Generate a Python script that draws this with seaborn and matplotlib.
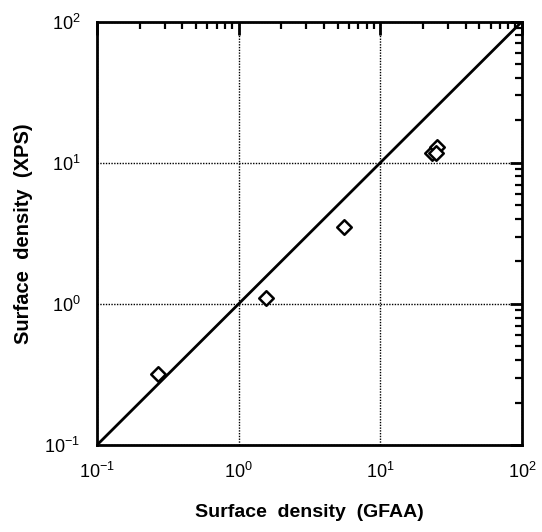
import matplotlib
matplotlib.use("Agg")
import matplotlib.pyplot as plt
import seaborn as sns
import numpy as np
import pandas as pd
from matplotlib.ticker import LogLocator, NullFormatter

sns.set_theme(style="white")
plt.rcParams['font.family'] = ['Liberation Sans', 'DejaVu Sans']
plt.rcParams['mathtext.fontset'] = 'custom'
plt.rcParams['mathtext.rm'] = 'Liberation Sans'
plt.rcParams['text.color'] = 'black'
plt.rcParams['axes.labelcolor'] = 'black'
plt.rcParams['xtick.color'] = 'black'
plt.rcParams['ytick.color'] = 'black'
plt.rcParams['axes.unicode_minus'] = False

# surface density measurements
gfaa = [0.27, 1.56, 5.5, 23.0, 25.1, 24.7]
xps = [0.318, 1.10, 3.48, 11.7, 13.0, 11.7]
line_range = [0.1, 100]

df = pd.DataFrame({'GFAA': gfaa, 'XPS': xps})

fig = plt.figure(figsize=(5.42, 5.32), dpi=100)
ax = fig.add_axes([0.179, 0.1635, 0.784, 0.796])

ax.plot(line_range, line_range, color='black', lw=2)
sns.scatterplot(data=df, x='GFAA', y='XPS', marker='D', s=55,
                facecolor='white', edgecolor='black', linewidth=1.8, ax=ax, zorder=3)

ax.set_xscale('log')
ax.set_yscale('log')
ax.set_xlim(0.1, 100)
ax.set_ylim(0.1, 100)

ax.xaxis.set_major_locator(LogLocator(base=10, numticks=10))
ax.yaxis.set_major_locator(LogLocator(base=10, numticks=10))
ax.xaxis.set_minor_locator(LogLocator(base=10, subs=np.arange(2, 10), numticks=10))
ax.yaxis.set_minor_locator(LogLocator(base=10, subs=np.arange(2, 10), numticks=10))
ax.xaxis.set_minor_formatter(NullFormatter())
ax.yaxis.set_minor_formatter(NullFormatter())

ax.grid(True, which='major', linestyle=(0, (1, 1)), color='black', lw=1)
ax.tick_params(which='both', direction='in', top=True, right=True, color='black')
ax.tick_params(which='major', length=9, width=2, labelsize=13, pad=12)
ax.tick_params(which='minor', length=5, width=1.6)
for s in ax.spines.values():
    s.set_linewidth(2)
    s.set_color('black')

ax.set_xlabel('Surface  density  (GFAA)', fontsize=14, fontweight='bold', labelpad=16)
ax.set_ylabel('Surface  density  (XPS)', fontsize=14.5, fontweight='bold', labelpad=8)

fig.savefig('out.png', dpi=100)
